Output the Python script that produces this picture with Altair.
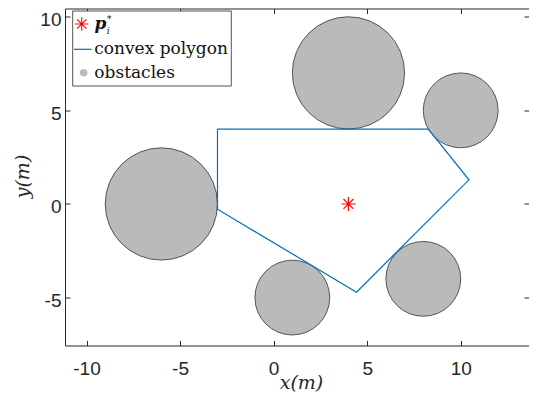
import altair as alt
import pandas as pd

# ---- data ----
obs_x = [-6, 4, 10, 1, 8]
obs_y = [0, 7, 5, -5, -4]
obs_r = [3, 3, 2, 2, 2]

poly_x = [-3.0, 8.27, 10.44, 4.43, -3.0, -3.0]
poly_y = [4.0, 4.0, 1.29, -4.71, -0.28, 4.0]

target_x = [4.0]
target_y = [0.0]

x_ticks = [-10, -5, 0, 5, 10]
y_ticks = [-5, 0, 5, 10]
x_domain = [-11.15, 13.65]
y_domain = [-7.56, 10.44]

legend_labels = ["convex polygon", "obstacles"]
p_label = ["p", "i", "*"]
x_title = "x(m)"
y_title = "y(m)"

# ---- layout / style ----
W, H = 464, 337
PX = W / (x_domain[1] - x_domain[0])
AX = "#262626"
BLUE = "#0072BD"
GRAY = "#bababa"
ASTER = "M-1,0L1,0M0,-1L0,1M-0.71,-0.71L0.71,0.71M-0.71,0.71L0.71,-0.71"
LBL = "replace(datum.label, '\u2212', '-')"

obs = pd.DataFrame({"x": obs_x, "y": obs_y, "r": obs_r})
poly = pd.DataFrame({"x": poly_x, "y": poly_y, "k": list(range(len(poly_x)))})
tgt = pd.DataFrame({"x": target_x, "y": target_y})
one = pd.DataFrame({"v": [0]})

xs = alt.Scale(domain=x_domain, nice=False, zero=False)
ys = alt.Scale(domain=y_domain, nice=False, zero=False)

xaxis = alt.Axis(values=x_ticks, orient="bottom", offset=-5, tickSize=5, domain=False,
                 grid=False, labelFont="Liberation Sans", labelFontSize=19, labelColor=AX,
                 labelPadding=14, labelFlush=False, labelOverlap=False, labelExpr=LBL,
                 tickColor=AX, tickWidth=1,
                 title=x_title, titleFont="DejaVu Serif", titleFontStyle="italic",
                 titleFontWeight="normal", titleFontSize=19, titleColor=AX,
                 titleBaseline="alphabetic", titleAlign="center", titleX=236, titleY=48)
yaxis = alt.Axis(values=y_ticks, orient="left", offset=-5, tickSize=5, domain=False,
                 grid=False, labelFont="Liberation Sans", labelFontSize=19, labelColor=AX,
                 labelPadding=4, labelOffset=3, labelFlush=False, labelOverlap=False,
                 labelExpr=LBL, tickColor=AX, tickWidth=1,
                 title=y_title, titleFont="DejaVu Serif", titleFontStyle="italic",
                 titleFontWeight="normal", titleFontSize=19, titleColor=AX,
                 titleBaseline="alphabetic", titleAlign="center", titleAngle=270,
                 titleX=-42, titleY=167.5)
taxis = alt.Axis(values=x_ticks, orient="top", offset=-5, tickSize=5, domain=False,
                 grid=False, labels=False, tickColor=AX, tickWidth=1, title=None)
raxis = alt.Axis(values=y_ticks, orient="right", offset=-5, tickSize=5, domain=False,
                 grid=False, labels=False, tickColor=AX, tickWidth=1, title=None)

circles = alt.Chart(obs).mark_point(shape="circle", filled=True, fill=GRAY, stroke="#333333",
                                    strokeWidth=0.8, opacity=1).encode(
    x=alt.X("x:Q", scale=xs, axis=xaxis),
    y=alt.Y("y:Q", scale=ys, axis=yaxis),
    size=alt.Size("r:Q", scale=alt.Scale(type="pow", exponent=2, domain=[0, 1],
                                         range=[0, (2 * PX) ** 2]), legend=None),
)

poly_line = alt.Chart(poly).mark_line(color=BLUE, strokeWidth=1.2).encode(
    x=alt.X("x:Q", scale=xs, axis=None),
    y=alt.Y("y:Q", scale=ys, axis=None),
    order="k:Q",
)

target = alt.Chart(tgt).mark_point(shape=ASTER, filled=False, color="#ff0000", size=196,
                                   strokeWidth=1.1, opacity=1).encode(
    x=alt.X("x:Q", scale=xs, axis=None),
    y=alt.Y("y:Q", scale=ys, axis=None),
)

mirror = alt.Chart(poly).mark_point(opacity=0).encode(
    x=alt.X("x:Q", scale=xs, axis=taxis),
    y=alt.Y("y:Q", scale=ys, axis=raxis),
)

# ---- legend (drawn as marks) ----
leg_box = alt.Chart(one).mark_rect(fill="white", stroke=AX, strokeWidth=0.8).encode(
    x=alt.value(7.7), x2=alt.value(166.3), y=alt.value(2.5), y2=alt.value(77.5))
leg_ast = alt.Chart(one).mark_point(shape=ASTER, filled=False, color="#ff0000", size=177,
                                    strokeWidth=1.1, opacity=1).encode(
    x=alt.value(16.7), y=alt.value(15.5))
leg_line = alt.Chart(one).mark_rule(color=BLUE, strokeWidth=1.2).encode(
    x=alt.value(9), x2=alt.value(26.7), y=alt.value(40.8))
leg_dot = alt.Chart(one).mark_point(shape="circle", filled=True, color=GRAY, size=56,
                                    opacity=1).encode(x=alt.value(18.7), y=alt.value(64.2))

TXT = "#111111"
t_p = alt.Chart(one).mark_text(font="DejaVu Serif", fontSize=17, fontStyle="italic",
                               fontWeight="bold", align="left", baseline="alphabetic",
                               color=TXT).encode(
    x=alt.value(29.5), y=alt.value(20.5), text=alt.value(p_label[0]))
t_i = alt.Chart(one).mark_text(font="DejaVu Serif", fontSize=9, fontStyle="italic",
                               align="left", baseline="alphabetic", color=TXT).encode(
    x=alt.value(41.7), y=alt.value(25.5), text=alt.value(p_label[1]))
t_s = alt.Chart(one).mark_text(font="DejaVu Serif", fontSize=9, align="left",
                               baseline="alphabetic", color=TXT).encode(
    x=alt.value(42), y=alt.value(13.3), text=alt.value(p_label[2]))
t_poly = alt.Chart(one).mark_text(font="DejaVu Serif", fontSize=17, align="left",
                                  baseline="alphabetic", color=TXT).encode(
    x=alt.value(29.3), y=alt.value(45.8), text=alt.value(legend_labels[0]))
t_obs = alt.Chart(one).mark_text(font="DejaVu Serif", fontSize=17, align="left",
                                 baseline="alphabetic", color=TXT).encode(
    x=alt.value(29.3), y=alt.value(69.2), text=alt.value(legend_labels[1]))

chart = alt.layer(
    circles, poly_line, target, mirror,
    leg_box, leg_ast, leg_line, leg_dot, t_p, t_i, t_s, t_poly, t_obs,
).resolve_axis(x="independent", y="independent").properties(
    width=W, height=H,
    autosize=alt.AutoSizeParams(type="none"),
    padding={"left": 57, "top": 0.5, "right": 0, "bottom": 51.5},
).configure_view(stroke=AX, strokeWidth=1)

chart.save("out.html", embed_options={"renderer": "svg", "actions": False})
